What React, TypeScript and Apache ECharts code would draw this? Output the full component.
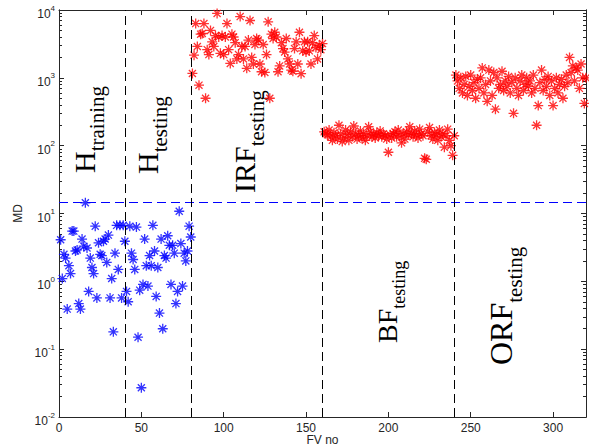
import React, { useEffect, useRef } from 'react';
import * as echarts from 'echarts';

// Mahalanobis distance (MD) per feature vector (FV no)
const hTrainingMD = [
  4.1, 1.1, 2.5, 2.2, 0.39, 1.7, 1.3, 5.5, 5.5, 2.8,
  2.9, 0.47, 0.39, 4.2, 3.3, 14.4, 3.1, 0.71, 2.2, 1.6,
  1.3, 6.5, 0.57, 3.7, 2.5, 2.4, 3.9, 4.2, 1.9, 4.8,
  0.57, 1.1, 0.18, 2.6, 6.7, 1.5, 6.7, 0.57, 6.7, 3.9,
];
const hTestingMD = [
  0.71, 0.5, 6.5, 2.6, 2.1, 1.5, 6.3, 0.15, 0.74, 0.027,
  0.9, 4.2, 1.7, 0.85, 2.4, 1.7, 6.7, 2.8, 0.6, 1.6,
  0.34, 4.2, 0.2, 2.4, 2.2, 4.7, 3.4, 0.9, 3.4, 2.6,
  0.47, 0.71, 10.8, 3.6, 0.85, 2.6, 2.0, 2.8, 6.5, 4.5,
];
const irfTestingMD = [
  1160, 2160, 6300, 2900, 780, 4400, 4500, 6300, 500, 2600,
  2200, 5000, 3400, 2900, 4200, 8900, 4000, 2300, 4200, 2200,
  4000, 6300, 2600, 1630, 4400, 4000, 3300, 1900, 2200, 8000,
  2900, 1900, 2900, 1380, 3600, 7000, 2000, 1600, 3100, 3800,
  3600, 1600, 1230, 3100, 1200, 2200, 6700, 500, 4400, 3800,
  4700, 4000, 1230, 1500, 3300, 2700, 2400, 3800, 1900, 1600,
  1300, 1250, 2700, 3400, 1600, 4700, 1150, 2500, 3400, 2400,
  3400, 2500, 1600, 3300, 4200, 2800, 1900, 3000, 2600, 3200,
];
const bfTestingMD = [
  160, 150, 145, 170, 135, 120, 155, 140, 125, 200,
  150, 115, 130, 170, 145, 120, 160, 135, 195, 150,
  125, 140, 165, 130, 150, 120, 140, 190, 160, 135,
  145, 130, 155, 140, 165, 135, 150, 140, 125, 80,
  145, 130, 150, 160, 135, 170, 140, 110, 150, 125,
  160, 145, 190, 150, 135, 165, 145, 130, 175, 150,
  140, 65, 63, 160, 185, 140, 125, 155, 145, 120,
  170, 135, 150, 95, 140, 175, 120, 100, 72, 140,
];
const orfTestingMD = [
  1100, 900, 700, 1000, 600, 800, 1050, 550, 750, 1100,
  650, 850, 500, 950, 700, 1000, 1400, 600, 800, 450,
  1300, 900, 550, 1200, 345, 1000, 700, 800, 1250, 650,
  900, 750, 1050, 600, 850, 300, 1000, 700, 550, 900,
  1100, 650, 800, 1000, 750, 900, 600, 1100, 700, 200,
  390, 850, 1300, 650, 950, 750, 1050, 550, 900, 390,
  700, 1000, 600, 800, 950, 500, 750, 1100, 850, 2000,
  1200, 1500, 900, 1400, 1300, 700, 1600, 1000, 420, 1000,
];

const segmentBoundaries = [40, 80, 160, 240];
const mdThreshold = 14.5;
const xTickValues = [0, 50, 100, 150, 200, 250, 300];
const yMajorTicks = [0.01, 0.1, 1, 10, 100, 1000, 10000];

const toPoints = (vals: number[], start: number) => vals.map((v, i) => [start + i, v]);

const ASTERISK = 'path://M5,0L5,10M0,5L10,5M1.46,1.46L8.54,8.54M1.46,8.54L8.54,1.46';
const AX = '#262626';
const SANS = 'Liberation Sans, Arial, sans-serif';
const SERIF = 'Liberation Serif, Times New Roman, serif';

const minorTicks: number[] = [];
for (let k = -2; k < 4; k++) for (let m = 2; m <= 9; m++) minorTicks.push(m * Math.pow(10, k));

function labelText(x: number, y: number, main: string, sub: string, mainSize: number, subSize: number) {
  return {
    type: 'text',
    x,
    y,
    rotation: Math.PI / 2,
    silent: true,
    style: {
      text: `{m|${main}}{s|${sub}}`,
      align: 'left',
      verticalAlign: 'top',
      rich: {
        m: { fontSize: mainSize, fontFamily: SERIF, lineHeight: mainSize * 1.5, fill: '#000' },
        s: { fontSize: subSize, fontFamily: SERIF, lineHeight: subSize, verticalAlign: 'bottom', fill: '#000' },
      },
    },
  };
}

export default function App() {
  const ref = useRef<HTMLDivElement>(null);
  useEffect(() => {
    if (!ref.current) return;
    const chart = echarts.init(ref.current, undefined, { renderer: 'svg' });
    const logAxisBase = {
      type: 'log',
      logBase: 10,
      min: 0.01,
      max: 10000,
      splitLine: { show: false },
      axisLine: { show: true, onZero: false, lineStyle: { color: AX, width: 1 } },
    };
    const yLabelRich = {
      b: { fontSize: 12, fontFamily: SANS, color: AX, lineHeight: 12, padding: [4, 0, 0, 0], verticalAlign: 'top' },
      e: { fontSize: 8, fontFamily: SANS, color: AX, lineHeight: 8, padding: [0, 0, 0, 0], verticalAlign: 'top' },
    };
    const scatterBase = {
      type: 'scatter',
      symbol: ASTERISK,
      symbolSize: 10,
      symbolKeepAspect: true,
      clip: false,
    };
    chart.setOption({
      animation: false,
      backgroundColor: '#fff',
      grid: { left: 59, right: 3, top: 10, bottom: 31, outerBoundsMode: 'none' },
      xAxis: [
        {
          type: 'value',
          min: 0,
          max: 320,
          interval: 50,
          name: 'FV no',
          nameLocation: 'middle',
          nameGap: 17,
          nameMoveOverlap: false,
          nameTextStyle: { fontSize: 12, fontFamily: SANS, color: AX },
          splitLine: { show: false },
          axisLine: { onZero: false, lineStyle: { color: AX, width: 1 } },
          axisTick: { inside: true, length: 5, lineStyle: { color: AX }, customValues: xTickValues },
          axisLabel: { fontSize: 12, fontFamily: SANS, color: AX, margin: 5, customValues: xTickValues },
        },
        {
          type: 'value',
          min: 0,
          max: 320,
          position: 'top',
          splitLine: { show: false },
          axisLine: { onZero: false, lineStyle: { color: AX, width: 1 } },
          axisTick: { inside: true, length: 5, lineStyle: { color: AX }, customValues: xTickValues },
          axisLabel: { show: false },
        },
      ],
      yAxis: [
        {
          ...logAxisBase,
          position: 'left',
          name: 'MD',
          nameLocation: 'middle',
          nameGap: 31,
          nameTextStyle: { fontSize: 12, fontFamily: SANS, color: AX },
          axisTick: { inside: true, length: 5, lineStyle: { color: AX }, customValues: yMajorTicks },
          axisLabel: {
            margin: 4,
            customValues: yMajorTicks,
            formatter: (v: number) => `{b|10}{e|${Math.round(Math.log10(v))}}`,
            rich: yLabelRich,
          },
        },
        {
          ...logAxisBase,
          position: 'left',
          axisTick: { inside: true, length: 3, lineStyle: { color: AX }, customValues: minorTicks },
          axisLabel: { show: false },
        },
        {
          ...logAxisBase,
          position: 'right',
          axisTick: { inside: true, length: 5, lineStyle: { color: AX }, customValues: yMajorTicks },
          axisLabel: { show: false },
        },
        {
          ...logAxisBase,
          position: 'right',
          axisTick: { inside: true, length: 3, lineStyle: { color: AX }, customValues: minorTicks },
          axisLabel: { show: false },
        },
      ],
      series: [
        {
          ...scatterBase,
          name: 'H training',
          data: toPoints(hTrainingMD, 1),
          itemStyle: { color: '#0000ff', borderColor: '#0000ff', borderWidth: 1.3 },
          markLine: {
            silent: true,
            symbol: 'none',
            label: { show: false },
            lineStyle: { color: '#0000ff', type: [9, 5], width: 1 },
            data: [{ yAxis: mdThreshold }],
          },
        },
        {
          ...scatterBase,
          name: 'H testing',
          data: toPoints(hTestingMD, 41),
          itemStyle: { color: '#0000ff', borderColor: '#0000ff', borderWidth: 1.3 },
        },
        {
          ...scatterBase,
          name: 'IRF testing',
          data: toPoints(irfTestingMD, 81),
          itemStyle: { color: '#ff0000', borderColor: '#ff0000', borderWidth: 1.3 },
          markLine: {
            silent: true,
            symbol: 'none',
            label: { show: false },
            lineStyle: { color: '#000', type: [9, 5], width: 1 },
            data: segmentBoundaries.map((b) => ({ xAxis: b })),
          },
        },
        {
          ...scatterBase,
          name: 'BF testing',
          data: toPoints(bfTestingMD, 161),
          itemStyle: { color: '#ff0000', borderColor: '#ff0000', borderWidth: 1.3 },
        },
        {
          ...scatterBase,
          name: 'ORF testing',
          data: toPoints(orfTestingMD, 241),
          itemStyle: { color: '#ff0000', borderColor: '#ff0000', borderWidth: 1.3 },
        },
      ],
      graphic: [
        labelText(62, 173, 'H', 'training', 30, 21),
        labelText(125, 174, 'H', 'testing', 30, 21),
        labelText(222, 193, 'IRF', 'testing', 30, 21),
        labelText(366, 343, 'BF', 'testing', 28, 18),
        labelText(477, 365, 'ORF', 'testing', 32, 21),
      ],
    });
    return () => chart.dispose();
  }, []);
  return <div ref={ref} style={{ position: 'fixed', left: 0, top: 0, width: 589, height: 448 }} />;
}
